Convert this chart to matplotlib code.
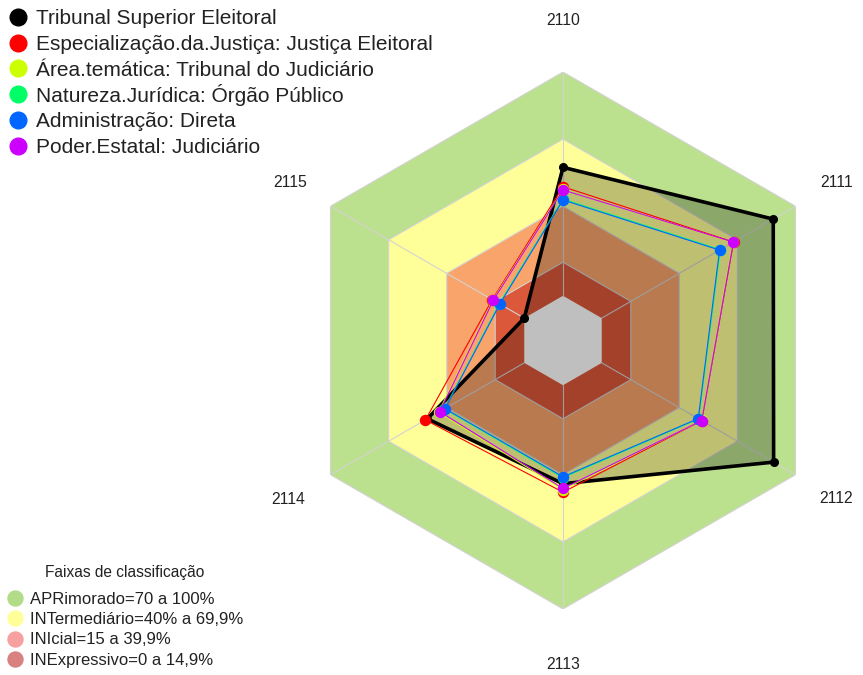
import numpy as np
import matplotlib
matplotlib.use('Agg')
import matplotlib.pyplot as plt
from matplotlib.lines import Line2D

plt.rcParams['font.family'] = ['Liberation Sans', 'DejaVu Sans']

# Axis (indicator) labels, clockwise from the top
axis_labels = ['2110', '2111', '2112', '2113', '2114', '2115']

# Series values (percent)
tse = [57.4, 88.5, 88.7, 44.0, 50.0, 0.0]
especializacao = [48.7, 68.0, 51.6, 47.8, 51.0, 16.5]
area_tematica = [47.5, 67.6, 51.5, 46.6, 44.2, 16.2]
natureza = [43.2, 61.2, 50.0, 41.3, 41.2, 12.9]
administracao = [42.8, 60.8, 49.8, 40.9, 40.9, 12.6]
poder = [47.3, 67.9, 51.6, 46.1, 43.6, 16.0]

series_names = ['Tribunal Superior Eleitoral',
                'Especialização.da.Justiça: Justiça Eleitoral',
                'Área.temática: Tribunal do Judiciário',
                'Natureza.Jurídica: Órgão Público',
                'Administração: Direta',
                'Poder.Estatal: Judiciário']
series_colors = ['black', '#FF0000', '#CCFF00', '#00FF66', '#0066FF', '#CC00FF']

# Classification bands (upper limit of each band)
band_limits = [100, 70, 40, 15]
band_colors = ['#BBE08E', '#FFFF99', '#F9A46B', '#DC583A']
band_labels = ['APRimorado=70 a 100%', 'INTermediário=40% a 69,9%',
               'INIcial=15 a 39,9%', 'INExpressivo=0 a 14,9%']
band_legend_colors = ['#B3DC88', '#FFFF99', '#F7A0A0', '#D98080']

W, H = 863, 675
fig = plt.figure(figsize=(W / 100, H / 100), dpi=100)


def fx(px):
    return px / W


def fy(py):
    # pixel row measured from the top -> figure fraction
    return 1 - py / H


cx, cy, rad = 563, 340.5, 268.5
ax = fig.add_axes([(cx - rad) / W, (H - cy - rad) / H, 2 * rad / W, 2 * rad / H],
                  projection='polar')
ax.set_theta_offset(np.pi / 2)
ax.set_theta_direction(-1)
ax.set_ylim(-20, 100)
ax.set_xticks([])
ax.set_yticks([])
ax.grid(False)
ax.spines['polar'].set_visible(False)
ax.patch.set_alpha(0)

n = len(axis_labels)
theta = np.linspace(0, 2 * np.pi, n, endpoint=False)
theta_c = np.append(theta, theta[0])

# background bands
for lim, col in zip(band_limits, band_colors):
    ax.fill(theta_c, [lim] * (n + 1), color=col, lw=0, zorder=1)
ax.fill(theta_c, [0] * (n + 1), color='white', lw=0, zorder=1)

# grid
for lim in [15, 40, 70, 100]:
    ax.plot(theta_c, [lim] * (n + 1), color='#D3D3D3', lw=0.8, zorder=1.5)
for t in theta:
    ax.plot([t, t], [0, 100], color='#D3D3D3', lw=0.8, zorder=1.5)

# TSE polygon
tse_c = tse + tse[:1]
ax.fill(theta_c, tse_c, color='black', alpha=0.25, lw=0, zorder=2)
ax.plot(theta_c, tse_c, color='black', lw=2.6, zorder=3)
ax.plot(theta, tse, 'o', color='black', ms=5.5, zorder=3)

others = [especializacao, area_tematica, natureza, administracao, poder]
for i, vals in enumerate(others):
    col = series_colors[i + 1]
    vc = vals + vals[:1]
    ax.plot(theta_c, vc, color=col, lw=0.8, zorder=4 + i)
    ax.plot(theta, vals, 'o', color=col, ms=7.2, zorder=4 + i)

label_r = [123, 121, 121, 125, 122, 121]
for t, lab, r in zip(theta, axis_labels, label_r):
    ax.text(t, r, lab, ha='center', va='center', fontsize=11.3,
            color='#222222', clip_on=False)

# series legend (drawn row by row so the spacing stays even)
row_y = 17
for name, col in zip(series_names, series_colors):
    fig.add_artist(Line2D([fx(18)], [fy(row_y)], marker='o', ls='', color=col,
                          ms=12, transform=fig.transFigure))
    fig.text(fx(36), fy(row_y + 7.5), name, fontsize=15, color='#222222',
             ha='left', va='baseline')
    row_y += 25.7

# band legend
fig.text(fx(125), fy(572 + 5.5), 'Faixas de classificação', fontsize=11.2,
         color='#222222', ha='center', va='baseline')
row_y = 597.5
for lab, col in zip(band_labels, band_legend_colors):
    fig.add_artist(Line2D([fx(15)], [fy(row_y)], marker='o', ls='', color=col,
                          ms=10.8, transform=fig.transFigure))
    fig.text(fx(30), fy(row_y + 6), lab, fontsize=12, color='#222222',
             ha='left', va='baseline')
    row_y += 20.5

fig.savefig('out.png', dpi=100)
